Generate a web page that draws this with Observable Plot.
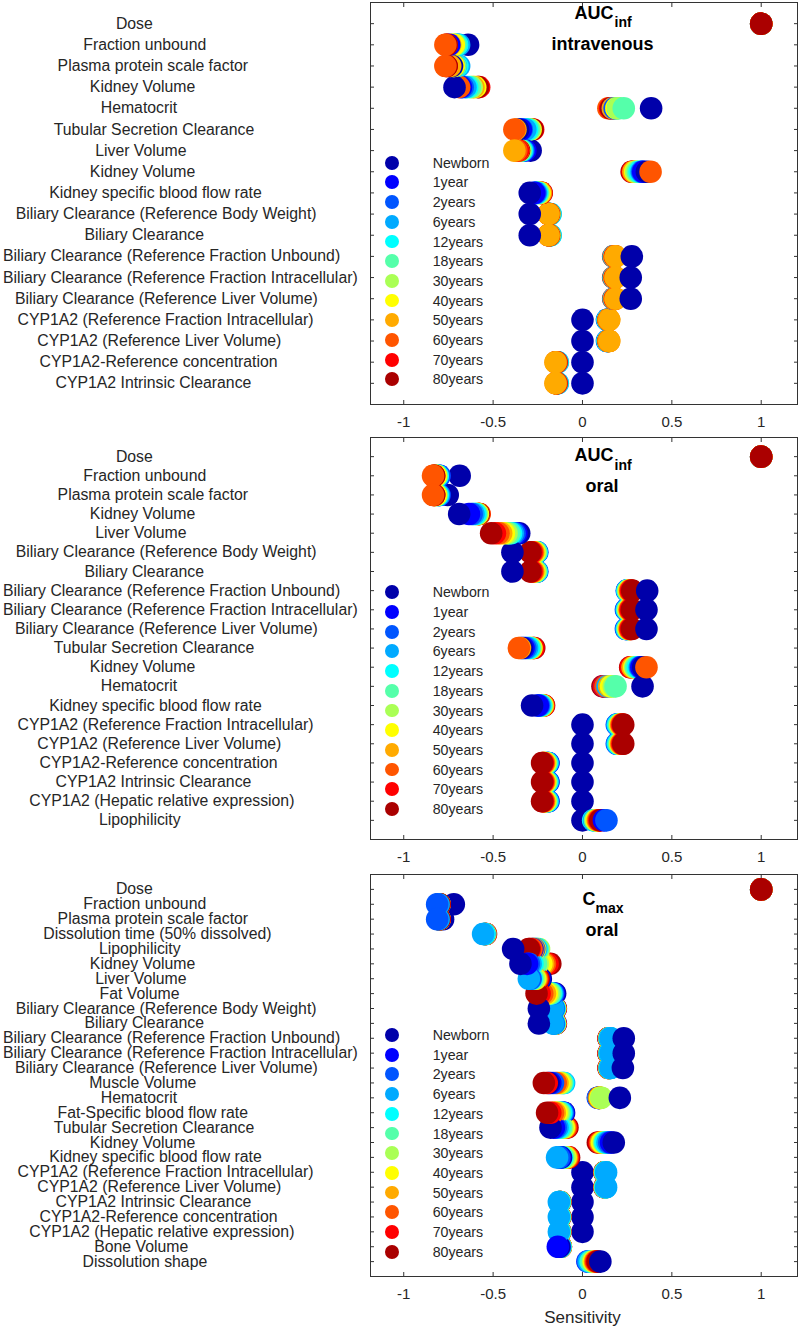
<!DOCTYPE html>
<html><head><meta charset="utf-8">
<script src="https://cdn.jsdelivr.net/npm/d3@7"></script>
<script src="https://cdn.jsdelivr.net/npm/@observablehq/plot@0.6"></script>
<style>
html,body{margin:0;padding:0;background:#fff;}
#root{position:relative;width:798px;height:1328px;font-family:"Liberation Sans",Arial,sans-serif;overflow:hidden;}
.panel{position:absolute;left:0;}
.lg{position:absolute;left:0;top:0;width:0;height:0;}
.lg .it{position:absolute;left:0;height:20px;width:160px;}
.lg .sw{position:absolute;left:385.4px;top:3.1px;width:13.8px;height:13.8px;border-radius:50%;}
.lg .tx{position:absolute;left:432.7px;top:0;line-height:20px;font-size:14.2px;color:#262626;white-space:nowrap;}
</style></head>
<body><div id="root"></div>
<script>
const ages = ["Newborn","1year","2years","6years","12years","18years","30years","40years","50years","60years","70years","80years"];
const ageColors = ["#0000aa","#0000ff","#0055ff","#00aaff","#00ffff","#55ffaa","#aaff55","#ffff00","#ffaa00","#ff5500","#ff0000","#aa0000"];
const xTicks = [-1, -0.5, 0, 0.5, 1];

// Panel 1: AUCinf intravenous
const ivLabels = ["Dose","Fraction unbound","Plasma protein scale factor","Kidney Volume","Hematocrit","Tubular Secretion Clearance","Liver Volume","Kidney Volume","Kidney specific blood flow rate","Biliary Clearance (Reference Body Weight)","Biliary Clearance","Biliary Clearance (Reference Fraction Unbound)","Biliary Clearance (Reference Fraction Intracellular)","Biliary Clearance (Reference Liver Volume)","CYP1A2 (Reference Fraction Intracellular)","CYP1A2 (Reference Liver Volume)","CYP1A2-Reference concentration","CYP1A2 Intrinsic Clearance"];
const ivValues = [
  [1,1,1,1,1,1,1,1,1,1,1,1],
  [-0.64,-0.745,-0.70,-0.69,-0.70,-0.71,-0.72,-0.72,-0.74,-0.767,-0.76,-0.76],
  [-0.73,-0.72,-0.71,-0.69,-0.70,-0.71,-0.72,-0.72,-0.74,-0.767,-0.76,-0.76],
  [-0.716,-0.68,-0.67,-0.655,-0.645,-0.63,-0.62,-0.60,-0.61,-0.69,-0.578,-0.585],
  [0.384,0.17,0.18,0.19,0.20,0.231,0.20,0.19,0.17,0.145,0.155,0.16],
  [-0.36,-0.345,-0.34,-0.32,-0.31,-0.30,-0.295,-0.29,-0.375,-0.381,-0.276,-0.28],
  [-0.29,-0.32,-0.33,-0.335,-0.34,-0.345,-0.35,-0.36,-0.381,-0.37,-0.36,-0.355],
  [0.36,0.34,0.335,0.33,0.32,0.31,0.30,0.295,0.285,0.381,0.28,0.275],
  [-0.295,-0.27,-0.265,-0.26,-0.255,-0.25,-0.245,-0.24,-0.235,-0.232,-0.23,-0.228],
  [-0.295,-0.185,-0.185,-0.18,-0.178,-0.182,-0.185,-0.186,-0.19,-0.189,-0.188,-0.188],
  [-0.295,-0.185,-0.185,-0.18,-0.178,-0.182,-0.185,-0.186,-0.19,-0.189,-0.188,-0.188],
  [0.276,0.178,0.178,0.176,0.175,0.177,0.178,0.18,0.185,0.183,0.18,0.172],
  [0.27,0.178,0.178,0.176,0.175,0.177,0.178,0.18,0.185,0.183,0.18,0.172],
  [0.27,0.178,0.178,0.176,0.175,0.177,0.178,0.18,0.185,0.183,0.18,0.172],
  [0,0.14,0.138,0.137,0.14,0.142,0.145,0.147,0.15,0.148,0.146,0.145],
  [0,0.14,0.138,0.137,0.14,0.142,0.145,0.147,0.15,0.148,0.146,0.145],
  [0,-0.145,-0.143,-0.138,-0.14,-0.142,-0.144,-0.146,-0.151,-0.149,-0.147,-0.146],
  [0,-0.145,-0.143,-0.138,-0.14,-0.142,-0.144,-0.146,-0.151,-0.149,-0.147,-0.146]
];

// Panel 2: AUCinf oral
const oralLabels = ["Dose","Fraction unbound","Plasma protein scale factor","Kidney Volume","Liver Volume","Biliary Clearance (Reference Body Weight)","Biliary Clearance","Biliary Clearance (Reference Fraction Unbound)","Biliary Clearance (Reference Fraction Intracellular)","Biliary Clearance (Reference Liver Volume)","Tubular Secretion Clearance","Kidney Volume","Hematocrit","Kidney specific blood flow rate","CYP1A2 (Reference Fraction Intracellular)","CYP1A2 (Reference Liver Volume)","CYP1A2-Reference concentration","CYP1A2 Intrinsic Clearance","CYP1A2 (Hepatic relative expression)","Lipophilicity"];
const oralValues = [
  [1,1,1,1,1,1,1,1,1,1,1,1],
  [-0.687,-0.80,-0.80,-0.81,-0.81,-0.815,-0.82,-0.82,-0.83,-0.836,-0.83,-0.83],
  [-0.754,-0.80,-0.80,-0.805,-0.81,-0.815,-0.82,-0.82,-0.83,-0.836,-0.83,-0.83],
  [-0.69,-0.635,-0.62,-0.61,-0.60,-0.595,-0.59,-0.585,-0.58,-0.575,-0.578,-0.58],
  [-0.354,-0.37,-0.38,-0.39,-0.40,-0.41,-0.425,-0.44,-0.455,-0.47,-0.49,-0.511],
  [-0.392,-0.255,-0.253,-0.255,-0.258,-0.26,-0.265,-0.27,-0.275,-0.28,-0.285,-0.291],
  [-0.392,-0.255,-0.253,-0.255,-0.258,-0.26,-0.265,-0.27,-0.275,-0.28,-0.285,-0.291],
  [0.362,0.25,0.248,0.25,0.252,0.255,0.258,0.262,0.265,0.268,0.272,0.278],
  [0.358,0.245,0.243,0.246,0.25,0.253,0.256,0.26,0.263,0.266,0.27,0.276],
  [0.358,0.245,0.243,0.246,0.25,0.253,0.256,0.26,0.263,0.266,0.27,0.276],
  [-0.34,-0.33,-0.32,-0.31,-0.30,-0.295,-0.29,-0.285,-0.35,-0.356,-0.275,-0.27],
  [0.34,0.33,0.325,0.32,0.31,0.30,0.295,0.29,0.28,0.358,0.27,0.267],
  [0.336,0.12,0.13,0.14,0.16,0.185,0.175,0.16,0.15,0.13,0.12,0.112],
  [-0.282,-0.25,-0.245,-0.24,-0.235,-0.23,-0.228,-0.225,-0.222,-0.22,-0.217,-0.215],
  [0,0.195,0.192,0.195,0.2,0.205,0.21,0.213,0.216,0.22,0.224,0.228],
  [0,0.195,0.192,0.195,0.2,0.205,0.21,0.213,0.216,0.22,0.224,0.228],
  [0,-0.192,-0.19,-0.194,-0.198,-0.202,-0.206,-0.21,-0.214,-0.218,-0.222,-0.226],
  [0,-0.192,-0.19,-0.194,-0.198,-0.202,-0.206,-0.21,-0.214,-0.218,-0.222,-0.226],
  [0,-0.192,-0.19,-0.194,-0.198,-0.202,-0.206,-0.21,-0.214,-0.218,-0.222,-0.226],
  [0,0.12,0.134,0.065,0.06,0.07,0.075,0.08,0.085,0.09,0.095,0.1]
];

// Panel 3: Cmax oral
const cmaxLabels = ["Dose","Fraction unbound","Plasma protein scale factor","Dissolution time (50% dissolved)","Lipophilicity","Kidney Volume","Liver Volume","Fat Volume","Biliary Clearance (Reference Body Weight)","Biliary Clearance","Biliary Clearance (Reference Fraction Unbound)","Biliary Clearance (Reference Fraction Intracellular)","Biliary Clearance (Reference Liver Volume)","Muscle Volume","Hematocrit","Fat-Specific blood flow rate","Tubular Secretion Clearance","Kidney Volume","Kidney specific blood flow rate","CYP1A2 (Reference Fraction Intracellular)","CYP1A2 (Reference Liver Volume)","CYP1A2 Intrinsic Clearance","CYP1A2-Reference concentration","CYP1A2 (Hepatic relative expression)","Bone Volume","Dissolution shape"];
const cmaxValues = [
  [1,1,1,1,1,1,1,1,1,1,1,1],
  [-0.72,-0.80,-0.813,-0.805,-0.80,-0.80,-0.80,-0.80,-0.80,-0.80,-0.80,-0.80],
  [-0.78,-0.80,-0.813,-0.805,-0.80,-0.80,-0.80,-0.80,-0.80,-0.80,-0.80,-0.80],
  [-0.545,-0.545,-0.55,-0.556,-0.55,-0.548,-0.546,-0.545,-0.544,-0.542,-0.541,-0.54],
  [-0.388,-0.28,-0.27,-0.26,-0.255,-0.25,-0.243,-0.265,-0.275,-0.285,-0.295,-0.30],
  [-0.347,-0.31,-0.30,-0.29,-0.28,-0.26,-0.25,-0.23,-0.22,-0.21,-0.195,-0.18],
  [-0.233,-0.24,-0.29,-0.30,-0.285,-0.28,-0.27,-0.265,-0.26,-0.255,-0.25,-0.245],
  [-0.153,-0.16,-0.165,-0.17,-0.175,-0.18,-0.19,-0.20,-0.21,-0.225,-0.24,-0.257],
  [-0.244,-0.149,-0.16,-0.164,-0.158,-0.156,-0.155,-0.154,-0.153,-0.152,-0.151,-0.15],
  [-0.244,-0.149,-0.16,-0.164,-0.158,-0.156,-0.155,-0.154,-0.153,-0.152,-0.151,-0.15],
  [0.231,0.146,0.153,0.157,0.155,0.152,0.151,0.15,0.149,0.148,0.147,0.146],
  [0.231,0.146,0.153,0.157,0.155,0.152,0.151,0.15,0.149,0.148,0.147,0.146],
  [0.226,0.146,0.153,0.157,0.155,0.152,0.151,0.15,0.149,0.148,0.147,0.146],
  [-0.19,-0.18,-0.165,-0.103,-0.108,-0.115,-0.12,-0.13,-0.14,-0.15,-0.20,-0.216],
  [0.209,0.086,0.088,0.09,0.092,0.095,0.105,0.1,0.098,0.096,0.094,0.092],
  [-0.103,-0.106,-0.11,-0.115,-0.12,-0.128,-0.135,-0.145,-0.155,-0.165,-0.18,-0.198],
  [-0.179,-0.16,-0.15,-0.14,-0.13,-0.12,-0.112,-0.105,-0.1,-0.095,-0.09,-0.084],
  [0.175,0.16,0.15,0.14,0.13,0.125,0.12,0.11,0.105,0.1,0.095,0.086],
  [-0.12,-0.125,-0.13,-0.142,-0.115,-0.11,-0.1,-0.095,-0.09,-0.085,-0.08,-0.075],
  [0,0.123,0.127,0.132,0.13,0.128,0.127,0.126,0.125,0.125,0.124,0.123],
  [0,0.123,0.127,0.132,0.13,0.128,0.127,0.126,0.125,0.125,0.124,0.123],
  [0,-0.125,-0.127,-0.132,-0.13,-0.128,-0.127,-0.126,-0.125,-0.125,-0.124,-0.125],
  [0,-0.125,-0.127,-0.132,-0.13,-0.128,-0.127,-0.126,-0.125,-0.125,-0.124,-0.125],
  [0,-0.125,-0.127,-0.132,-0.13,-0.128,-0.127,-0.126,-0.125,-0.125,-0.124,-0.125],
  [-0.13,-0.138,-0.128,-0.125,-0.124,-0.123,-0.122,-0.122,-0.121,-0.121,-0.121,-0.121],
  [0.10,0.028,0.03,0.035,0.045,0.05,0.06,0.065,0.07,0.075,0.08,0.085]
];

const root = document.getElementById("root");
const FONT = '"Liberation Sans", Arial, sans-serif';
const INK = "#262626";

function makePanel(cfg) {
  const {labels, values, top, height, marginBottom, title, legendY} = cfg;
  const n = labels.length;
  const data = [];
  values.forEach((row, i) => row.forEach((v, j) => data.push({row: i + 1, value: v, age: ages[j]})));
  const rows = d3.range(1, n + 1);
  const marks = [
    Plot.text(labels, {y: (d, i) => i + 1, text: d => d, frameAnchor: "left", textAnchor: "start", lineAnchor: "middle", dx: -370, fontSize: 15.8, fill: INK}),
    Plot.axisX(xTicks, {anchor: "bottom", label: null, tickSize: 0, tickPadding: 12, tickFormat: d => String(d), fontSize: 15, fill: INK}),
    Plot.axisX(xTicks, {anchor: "bottom", label: null, tickSize: 4, dy: -4, tickFormat: () => "", stroke: "#333"}),
    Plot.axisX(xTicks, {anchor: "top", label: null, tickSize: 4, dy: 4, tickFormat: () => "", stroke: "#333"}),
    Plot.axisY(rows, {anchor: "left", label: null, tickSize: 4, dx: 4, tickFormat: () => "", stroke: "#333"}),
    Plot.axisY(rows, {anchor: "right", label: null, tickSize: 4, dx: -4, tickFormat: () => "", stroke: "#333"}),
    Plot.dot(data, {x: "value", y: "row", r: 11.3, fill: "age", stroke: null, sort: d => Math.abs(d.value)}),
    Plot.frame({stroke: "#333", strokeWidth: 1})
  ];
  for (const t of title) {
    marks.push(Plot.text([t.text], {text: d => d, frameAnchor: "top", textAnchor: t.anchor, lineAnchor: "bottom", dx: t.dx, dy: t.dy, fontSize: t.size, fontWeight: "bold", fill: "#000"}));
  }
  if (cfg.xlabel) {
    marks.push(Plot.text([cfg.xlabel], {text: d => d, frameAnchor: "bottom", textAnchor: "middle", lineAnchor: "bottom", dx: -1.5, dy: 46.5, fontSize: 17, fill: INK}));
  }
  const svg = Plot.plot({
    width: 798, height, marginLeft: 370, marginRight: 1, marginTop: 2, marginBottom,
    style: {fontFamily: FONT, fontSize: "15px", color: INK, background: "transparent", overflow: "visible"},
    x: {domain: [-1.186, 1.203], label: null},
    y: {domain: [0, n + 1], reverse: true, label: null},
    color: {domain: ages, range: ageColors},
    marks
  });
  svg.classList.add("panel");
  svg.style.top = top + "px";
  svg.style.position = "absolute";
  root.appendChild(svg);
  // place the parameter labels (centered-ish, kept inside the left area)
  const g = svg.querySelector('g[aria-label="text"]');
  if (g) {
    const sr = svg.getBoundingClientRect();
    for (const t of g.querySelectorAll("text")) {
      const r = t.getBoundingClientRect();
      const w = r.width, left = r.left - sr.left;
      let target = 130 + 0.12 * w - w / 2;
      target = Math.max(3, Math.min(target, 361 - w));
      const delta = target - left;
      t.setAttribute("transform", (t.getAttribute("transform") || "") + ` translate(${delta},0)`);
    }
  }
  // legend
  const lg = document.createElement("div");
  lg.className = "lg";
  ages.forEach((a, j) => {
    const it = document.createElement("div");
    it.className = "it";
    it.style.top = (legendY - 10 + j * 19.7) + "px";
    const sw = document.createElement("div");
    sw.className = "sw"; sw.style.background = ageColors[j];
    const tx = document.createElement("div");
    tx.className = "tx"; tx.textContent = a;
    it.appendChild(sw); it.appendChild(tx);
    lg.appendChild(it);
  });
  root.appendChild(lg);
}

makePanel({labels: ivLabels, values: ivValues, top: 0, height: 437, marginBottom: 33, legendY: 162.7,
  title: [
    {text: "AUC", anchor: "start", dx: -9.5, dy: 16.3, size: 18},
    {text: "inf", anchor: "start", dx: 30.5, dy: 24.7, size: 14},
    {text: "intravenous", anchor: "middle", dx: 18.5, dy: 47, size: 18}
  ]});
makePanel({labels: oralLabels, values: oralValues, top: 435, height: 437, marginBottom: 33, legendY: 592.3,
  title: [
    {text: "AUC", anchor: "start", dx: -9.5, dy: 23.4, size: 18},
    {text: "inf", anchor: "start", dx: 30.5, dy: 32, size: 14},
    {text: "oral", anchor: "middle", dx: 18, dy: 54.4, size: 18}
  ]});
makePanel({labels: cmaxLabels, values: cmaxValues, top: 872, height: 456, marginBottom: 52, legendY: 1035, xlabel: "Sensitivity",
  title: [
    {text: "C", anchor: "start", dx: -1.5, dy: 30, size: 18},
    {text: "max", anchor: "start", dx: 11.5, dy: 38.3, size: 14},
    {text: "oral", anchor: "middle", dx: 18, dy: 61, size: 18}
  ]});
</script>
</body></html>
